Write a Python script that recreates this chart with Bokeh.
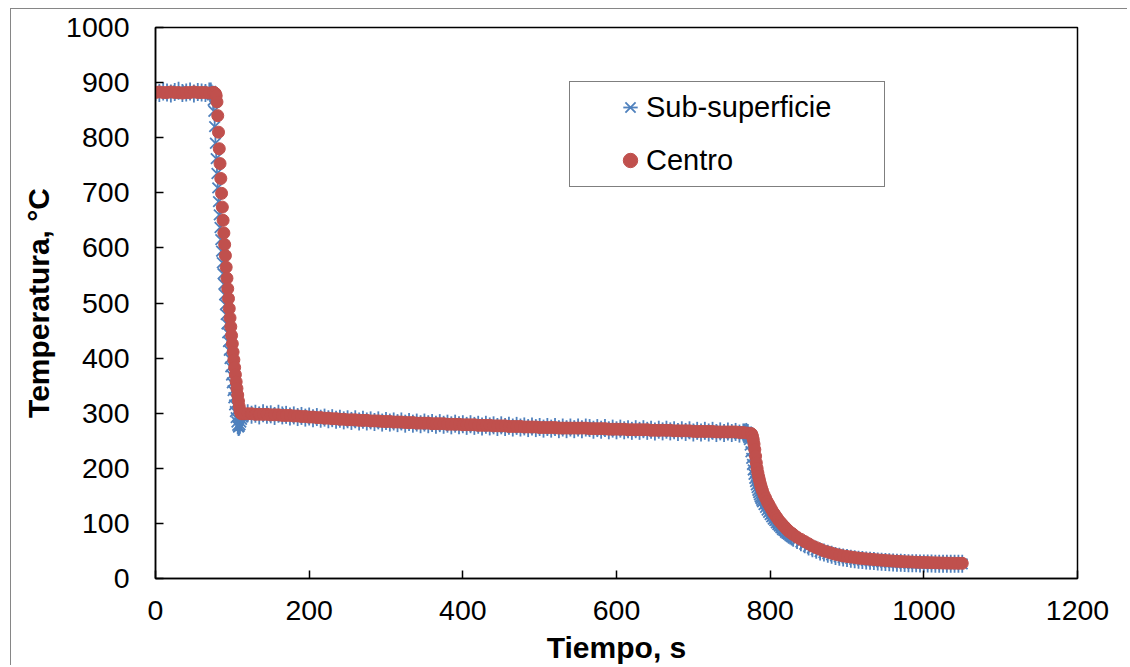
import math
from bokeh.plotting import figure
from bokeh.models import Range1d, FixedTicker, Legend, LegendItem
from bokeh.embed import file_html
from bokeh.resources import INLINE

BLUE = "#4F81BD"
RED = "#C0504D"

# ---------------- data ----------------
# Centro (circles)
centro_t = (list(range(0, 80, 5)) + list(range(76, 113)) + list(range(115, 780, 5))
            + list(range(776, 791)) + list(range(792, 831, 2)) + list(range(835, 1051, 5)))
centro_T = (
    # 0..75 step 5
    [882, 883, 882, 882, 883, 882, 882, 881, 882, 882, 883, 882, 882, 882, 881, 882]
    # 76..112 step 1
    + [882, 881, 880, 876, 865, 840, 810, 780, 753, 726, 699, 674, 650, 627, 606,
       586, 565, 545, 526, 508, 490, 473, 457, 441, 426, 411, 397, 383, 370, 357,
       345, 333, 322, 312, 304, 300, 299]
    # 115..775 step 5
    + [299, 299, 299, 298, 298, 298, 298, 297, 297, 297, 296, 296, 296]
    + [295, 295, 294, 294, 293, 293, 292, 292, 291, 291,
       290, 290, 289, 289, 288, 288, 288, 287, 287, 287,
       286, 286, 286, 285, 285, 285, 284, 284, 284, 283,
       283, 283, 282, 282]
    + [282, 282, 281, 281, 281, 281, 280, 280, 280, 280,
       279, 279, 279, 279, 278, 278, 278, 278, 277, 277,
       277, 277, 276, 276, 276, 276, 275, 275, 275, 275,
       274, 274, 274, 274, 274, 273, 273, 273, 273, 273,
       273, 273, 273]
    + [272, 272, 272, 272, 272, 271, 271, 271, 271, 271,
       270, 270, 270, 270, 270, 270, 269, 269, 269, 269,
       269, 269, 268, 268, 268, 268, 268, 267, 267, 267,
       267, 267, 267, 266, 266, 266, 266, 266, 266, 265,
       265, 264, 263]
    # 776..790 step 1
    + [262, 258, 252, 244, 234, 222, 210, 200, 192, 185, 179, 173, 168, 163, 159]
    # 792..830 step 2
    + [152, 146, 140, 135, 130, 125, 120, 116, 112, 108,
       104, 101, 98, 95, 92, 89, 86, 84, 82, 80]
    # 835..1050 step 5
    + [75, 71, 67, 63, 59, 56, 53, 50, 48, 46,
       44, 42.5, 41, 40, 39, 38, 37, 36.3, 35.6, 35,
       34.4, 33.8, 33.2, 32.7, 32.2, 31.7, 31.3, 30.9, 30.5, 30.2,
       29.9, 29.6, 29.3, 29.1, 28.9, 28.7, 28.5, 28.3, 28.1, 28,
       27.9, 27.8, 27.7, 27.6]
)

# Sub-superficie (asterisks)
sub_t = (list(range(0, 71, 5)) + list(range(71, 116)) + list(range(120, 766, 5))
         + list(range(766, 791)) + list(range(792, 831, 2)) + list(range(835, 1051, 5)))
sub_T = (
    [883, 881, 884, 882, 880, 883, 885, 881, 882, 884, 880, 883, 882, 881, 884]
    + [881, 884, 880, 878, 868, 848, 820, 790, 762, 735, 709, 684, 660, 637, 615,
       594, 573, 553, 534, 515, 497, 479, 462, 446, 430, 414, 399, 384, 369, 355,
       341, 328, 315, 303, 292, 284, 278, 275, 276, 279, 284, 289, 293, 296, 298]
    + [300, 297, 299, 296, 300, 297, 298, 295, 299, 296, 297, 294]
    + [296, 293, 295, 292, 294, 291, 293, 290, 292, 289,
       291, 288, 290, 287, 289, 286, 289, 285, 288, 285,
       287, 284, 287, 283, 286, 283, 285, 282, 285, 281,
       284, 281, 283, 280]
    + [283, 280, 282, 279, 282, 279, 281, 278, 281, 278,
       280, 277, 280, 277, 279, 276, 279, 276, 278, 275,
       278, 275, 277, 274, 277, 274, 276, 273, 276, 273,
       275, 272, 275, 272, 275, 271, 274, 271, 274, 271,
       274, 271, 274]
    + [273, 270, 273, 270, 273, 269, 272, 269, 272, 269,
       271, 268, 271, 268, 271, 268, 270, 267, 270, 267,
       270, 267, 269, 266, 269, 266, 269, 265, 268, 265,
       268, 265, 268, 264, 267, 264, 267, 264, 266, 263,
       265]
    # 766..790 step 1
    + [262, 265, 263, 266, 262, 264, 259, 252, 242, 230, 218, 207, 197, 189, 182,
       176, 170, 165, 160, 156, 152, 148, 145, 142, 139]
    # 792..830 step 2
    + [134, 129, 124, 120, 116, 112, 108, 105, 101, 98,
       95, 92, 89, 87, 84, 82, 80, 78, 76, 74]
    # 835..1050 step 5
    + [70, 66, 62, 58, 55, 52, 49, 47, 45, 43,
       41, 39.5, 38, 37, 36, 35, 34.2, 33.5, 32.8, 32.2,
       31.6, 31, 30.5, 30, 29.6, 29.2, 28.8, 28.5, 28.2, 27.9,
       27.7, 27.5, 27.3, 27.2, 27.1, 27, 26.9, 26.9, 26.8, 26.8,
       26.7, 26.7, 26.6, 26.6]
)

assert len(centro_t) == len(centro_T), (len(centro_t), len(centro_T))
assert len(sub_t) == len(sub_T), (len(sub_t), len(sub_T))

x_ticks = [0, 200, 400, 600, 800, 1000, 1200]
y_ticks = [0, 100, 200, 300, 400, 500, 600, 700, 800, 900, 1000]
series_labels = ["Sub-superficie", "Centro"]

FONT = "Liberation Sans"

p = figure(width=1117, height=657,
           x_range=Range1d(0, 1200), y_range=Range1d(0, 1000),
           output_backend="svg", toolbar_location=None,
           min_border_left=144, min_border_right=51,
           min_border_top=18, min_border_bottom=88,
           styles={"margin-left": "10px", "margin-top": "8px",
                   "border-left": "1px solid #868686",
                   "border-top": "1px solid #868686"})
p.xgrid.visible = False
p.ygrid.visible = False
p.outline_line_color = "black"
p.outline_line_width = 1.5
p.background_fill_color = "white"
p.border_fill_color = "white"

for ax in (p.xaxis[0], p.yaxis[0]):
    ax.axis_line_color = "black"
    ax.axis_line_width = 1.5
    ax.major_tick_in = 8
    ax.major_tick_out = 0
    ax.major_tick_line_color = "black"
    ax.major_tick_line_width = 1.5
    ax.minor_tick_in = 0
    ax.minor_tick_out = 0
    ax.major_label_text_font = FONT
    ax.major_label_text_font_size = "28.5px"
    ax.major_label_text_color = "black"
    ax.axis_label_text_font = FONT
    ax.axis_label_text_font_size = "30px"
    ax.axis_label_text_font_style = "bold"
    ax.axis_label_text_color = "black"

p.xaxis[0].ticker = FixedTicker(ticks=x_ticks)
p.yaxis[0].ticker = FixedTicker(ticks=y_ticks)
p.xaxis[0].major_label_standoff = 22
p.yaxis[0].major_label_standoff = 26
p.xaxis[0].axis_label = "Tiempo, s"
p.yaxis[0].axis_label = "Temperatura, °C"
p.xaxis[0].axis_label_standoff = 8
p.yaxis[0].axis_label_standoff = 8

rx = p.scatter(sub_t, sub_T, marker="x", size=15, line_color=BLUE, line_width=1.8)
rd = p.scatter(sub_t, sub_T, marker="dash", size=18, angle=math.pi / 2,
               line_color=BLUE, line_width=1.8)
rc = p.scatter(centro_t, centro_T, marker="circle", size=12,
               fill_color=RED, line_color=RED)

# invisible renderers used only for the legend box + labels
d1 = p.scatter([], [], marker="circle", size=1, fill_alpha=0, line_alpha=0)
d2 = p.scatter([], [], marker="circle", size=1, fill_alpha=0, line_alpha=0)

legend_box = Legend(items=[LegendItem(label=series_labels[0], renderers=[d1]),
                           LegendItem(label=series_labels[1], renderers=[d2])],
                    location=(414, 391), margin=0,
                    border_line_color="black", border_line_width=1.6,
                    background_fill_color="white", background_fill_alpha=1.0,
                    label_text_font=FONT, label_text_font_size="29px",
                    label_text_color="black",
                    padding=8, spacing=18, label_height=29,
                    glyph_height=35, glyph_width=68, label_standoff=0,
                    label_width=230)
p.add_layout(legend_box)

legend_glyphs = Legend(items=[LegendItem(label=" ", renderers=[rx, rd]),
                              LegendItem(label=" ", renderers=[rc])],
                       location=(457, 400), margin=0,
                       border_line_alpha=0, background_fill_alpha=0,
                       label_text_font_size="2px",
                       padding=0, spacing=17, label_height=2,
                       glyph_height=36, glyph_width=36, label_standoff=0,
                       label_width=0)
p.add_layout(legend_glyphs)

open("out.html", "w").write(file_html(p, INLINE))
